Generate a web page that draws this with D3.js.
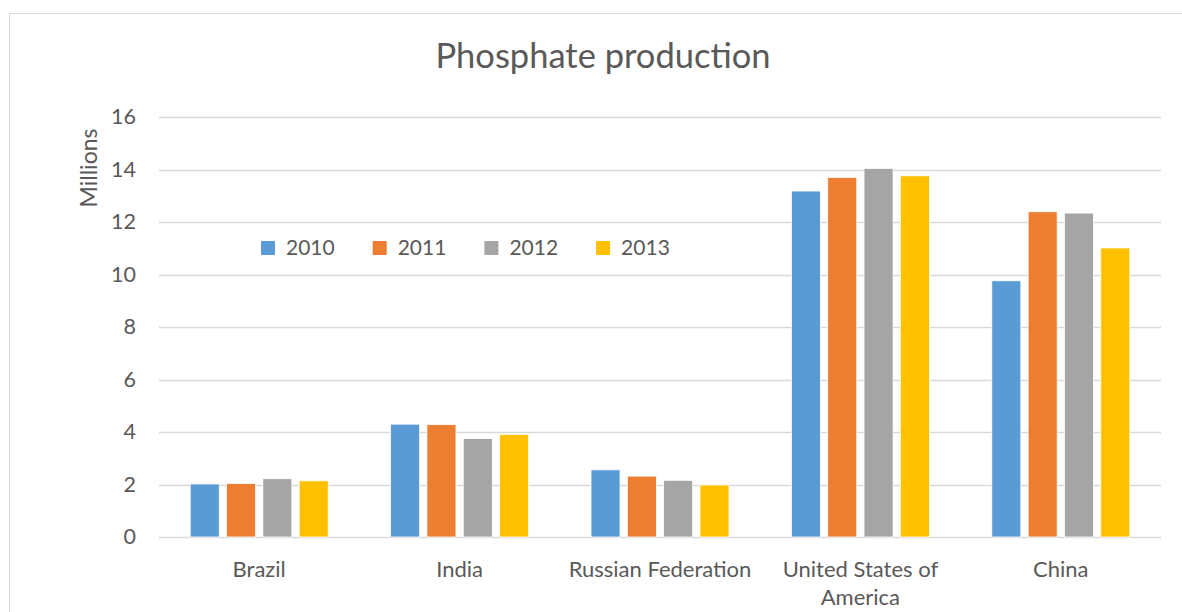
<!DOCTYPE html>
<html>
<head>
<meta charset="utf-8">
<script src="https://cdn.jsdelivr.net/npm/d3@7"></script>
<style>
  body { margin: 0; background: #fff; }
  text { font-family: Lato, "Open Sans", sans-serif; fill: #595959; }
</style>
</head>
<body>
<div id="chart"></div>
<script>
// datos
const countries = ["Brazil", "India", "Russian Federation", "United States of America", "China"]
const years = ["2010", "2011", "2012", "2013"]
const v2010 = [2.02, 4.30, 2.56, 13.18, 9.76]
const v2011 = [2.04, 4.28, 2.32, 13.70, 12.39]
const v2012 = [2.22, 3.75, 2.16, 14.04, 12.34]
const v2013 = [2.14, 3.91, 1.98, 13.76, 11.01]
const yTicks = [0, 2, 4, 6, 8, 10, 12, 14, 16]
const colors = ["#5B9BD5", "#ED7D31", "#A5A5A5", "#FFC000"]

const series = [v2010, v2011, v2012, v2013]

const W = 1182, H = 612
let svg = d3.select("#chart").append("svg").attr("width", W).attr("height", H)

// marco del grafico
svg.append("rect")
  .attr("x", 9.5).attr("y", 13.5)
  .attr("width", W + 20).attr("height", H + 20)
  .attr("fill", "#fff").attr("stroke", "#d9d9d9").attr("stroke-width", 1)

const plotLeft = 159, plotRight = 1161, plotTop = 117, plotBottom = 537

let y = d3.scaleLinear().domain([0, 16]).range([plotBottom, plotTop])
let x0 = d3.scaleBand().domain(countries).range([plotLeft, plotRight])
// grupo de barras: 4 barras de ~29px con separacion
let x1 = d3.scaleBand().domain(years).range([0, 138]).paddingInner(0.2).paddingOuter(0)

// grid
svg.append("g").selectAll("line")
  .data(yTicks)
  .join("line")
  .attr("x1", plotLeft).attr("x2", plotRight)
  .attr("y1", d => Math.round(y(d)) + 0.5).attr("y2", d => Math.round(y(d)) + 0.5)
  .attr("stroke", "#d9d9d9").attr("stroke-width", 1.3)

// eje y
let yAxis = svg.append("g")
  .attr("transform", `translate(${plotLeft},0)`)
  .call(d3.axisLeft(y).tickValues(yTicks).tickSize(0).tickPadding(23))
yAxis.select(".domain").remove()
yAxis.selectAll("text")
  .style("font-family", "Lato, 'Open Sans', sans-serif")
  .style("font-size", "21.5px").attr("fill", "#595959")

// barras
const groupW = x1.range()[1]
countries.forEach((c, i) => {
  let g = svg.append("g")
    .attr("transform", `translate(${x0(c) + (x0.bandwidth() - groupW) / 2},0)`)
  g.selectAll("rect")
    .data(years.map((yr, k) => ({ year: yr, value: series[k][i], k: k })))
    .join("rect")
    .attr("x", d => x1(d.year))
    .attr("width", x1.bandwidth())
    .attr("y", d => y(d.value))
    .attr("height", d => y(0) - y(d.value))
    .attr("fill", d => colors[d.k])
    .attr("stroke", "#fff").attr("stroke-width", 0.8)
})

// etiquetas de categoria
countries.forEach(c => {
  let cx = x0(c) + x0.bandwidth() / 2
  let lines = c === "United States of America" ? ["United States of", "America"] : [c]
  lines.forEach((l, j) => {
    svg.append("text")
      .attr("x", cx).attr("y", 577 + j * 28)
      .attr("text-anchor", "middle")
      .style("font-size", "22px")
      .text(l)
  })
})

// titulo eje y
svg.append("text")
  .attr("transform", "translate(97,168) rotate(-90)")
  .attr("text-anchor", "middle")
  .style("font-size", "23px")
  .text("Millions")

// titulo
svg.append("text")
  .attr("x", 603).attr("y", 68)
  .attr("text-anchor", "middle")
  .style("font-size", "34.5px")
  .text("Phosphate production")

// leyenda
let leg = svg.append("g")
years.forEach((yr, k) => {
  let lx = 261 + k * 111.7
  leg.append("rect").attr("x", lx).attr("y", 241).attr("width", 14).attr("height", 14).attr("fill", colors[k])
  leg.append("text").attr("x", lx + 25).attr("y", 255).style("font-size", "21px").text(yr)
})
</script>
</body>
</html>
